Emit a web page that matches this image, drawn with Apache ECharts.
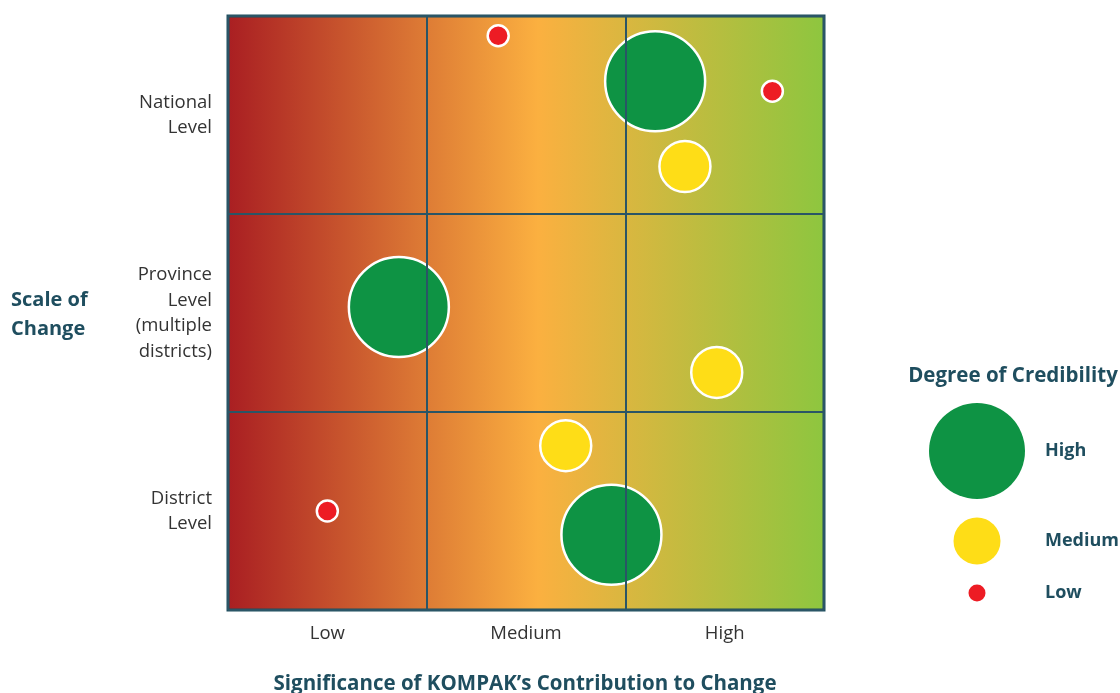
<!DOCTYPE html>
<html><head><meta charset="utf-8">
<script src="https://cdn.jsdelivr.net/npm/echarts@6/dist/echarts.min.js"></script>
<style>html,body{margin:0;padding:0;background:#fff}#c{width:1120px;height:693px}</style>
</head><body><div id="c"></div>
<script>
const xCategories = ['Low', 'Medium', 'High'];
const yCategories = ['District\nLevel', 'Province\nLevel\n(multiple\ndistricts)', 'National\nLevel'];
const credibilityLevels = ['High', 'Medium', 'Low'];
const credibilityColors = {High: '#0e9344', Medium: '#fedd17', Low: '#ed1c24'};
const credibilitySizes = {High: 100, Medium: 51, Low: 21};
// [contribution (0-3), scale (0-3), credibility]
const points = [
  [1.36, 2.90, 'Low'],
  [2.15, 2.67, 'High'],
  [2.74, 2.62, 'Low'],
  [2.30, 2.24, 'Medium'],
  [0.86, 1.53, 'High'],
  [2.46, 1.20, 'Medium'],
  [1.70, 0.83, 'Medium'],
  [1.93, 0.38, 'High'],
  [0.50, 0.50, 'Low']
];
const FONT = '"Open Sans"';
const dark = '#1f4e5f';
const chart = echarts.init(document.getElementById('c'));
const series = credibilityLevels.map(lv => ({
  type: 'scatter', name: lv, xAxisIndex: 1, yAxisIndex: 1,
  symbolSize: credibilitySizes[lv],
  itemStyle: {color: credibilityColors[lv], borderColor: '#fff', borderWidth: 2.5, opacity: 1},
  data: points.filter(p => p[2] === lv).map(p => [p[0], p[1]]),
  silent: true, z: lv === 'High' ? 3 : 4
}));
const legendY = [451, 541, 593];
const legendR = {High: 48, Medium: 23.5, Low: 8.5};
const legendGraphics = [];
credibilityLevels.forEach((lv, i) => {
  legendGraphics.push({type: 'circle', shape: {cx: 977, cy: legendY[i], r: legendR[lv]}, style: {fill: credibilityColors[lv]}});
  legendGraphics.push({type: 'text', x: 1045, y: legendY[i], style: {text: lv, font: 'bold 18px ' + FONT, fill: dark, textVerticalAlign: 'middle'}});
});
chart.setOption({
  animation: false,
  textStyle: {fontFamily: FONT},
  grid: {left: 228, width: 596, top: 16, height: 594, show: true,
    backgroundColor: new echarts.graphic.LinearGradient(0, 0, 1, 0, [
      {offset: 0, color: '#a91e22'}, {offset: 0.52, color: '#fbb040'}, {offset: 1, color: '#8dc63f'}]),
    borderColor: dark, borderWidth: 3},
  xAxis: [
    {type: 'category', data: xCategories, boundaryGap: true,
     axisLine: {show: false}, axisTick: {show: false},
     axisLabel: {color: '#333', fontSize: 18.5, margin: 14, fontFamily: FONT},
     splitLine: {show: true, lineStyle: {color: '#2a5566', width: 2}}, z: 5},
    {type: 'value', min: 0, max: 3, show: false}
  ],
  yAxis: [
    {type: 'category', data: yCategories, boundaryGap: true,
     axisLine: {show: false}, axisTick: {show: false},
     axisLabel: {color: '#333', fontSize: 18.5, lineHeight: 25.5, margin: 16, align: 'right', fontFamily: FONT,
       padding: [6, 0, 0, 0]},
     splitLine: {show: true, lineStyle: {color: '#2a5566', width: 2}}, z: 5},
    {type: 'value', min: 0, max: 3, show: false}
  ],
  series: series,
  graphic: [
    {type: 'text', x: 11, y: 315, style: {text: 'Scale of\nChange', font: 'bold 20px ' + FONT, fill: dark, lineHeight: 29, textVerticalAlign: 'middle'}},
    {type: 'text', x: 525, y: 684, style: {text: 'Significance of KOMPAK\u2019s Contribution to Change', font: 'bold 20.5px ' + FONT, fill: dark, textAlign: 'center', textVerticalAlign: 'middle'}},
    {type: 'text', x: 1013, y: 376, style: {text: 'Degree of Credibility', font: 'bold 20.5px ' + FONT, fill: dark, textAlign: 'center', textVerticalAlign: 'middle'}},
    ...legendGraphics
  ]
});
</script></body></html>
